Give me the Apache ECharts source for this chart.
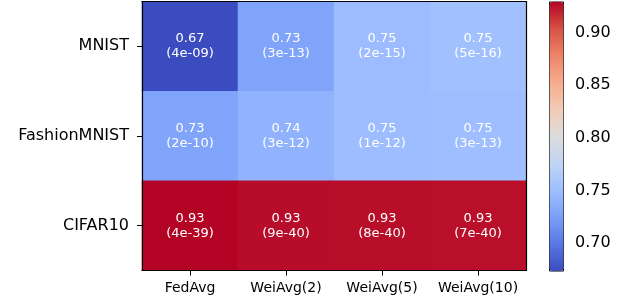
<!DOCTYPE html>
<html>
<head>
<meta charset="utf-8">
<script src="https://cdn.jsdelivr.net/npm/echarts@6/dist/echarts.min.js"></script>
<style>html,body{margin:0;padding:0;background:#fff}#c{width:627px;height:303px}</style>
</head>
<body>
<div id="c"></div>
<script>
const methods = ['FedAvg', 'WeiAvg(2)', 'WeiAvg(5)', 'WeiAvg(10)'];
const datasets = ['MNIST', 'FashionMNIST', 'CIFAR10'];
const mnistAcc = [0.6742, 0.729, 0.749, 0.753];
const fashionAcc = [0.729, 0.741, 0.750, 0.751];
const cifarAcc = [0.9295, 0.9265, 0.9262, 0.9258];
const mnistP = ['4e-09', '3e-13', '2e-15', '5e-16'];
const fashionP = ['2e-10', '3e-12', '1e-12', '3e-13'];
const cifarP = ['4e-39', '9e-40', '8e-40', '7e-40'];
const colorbarTicks = [0.70, 0.75, 0.80, 0.85, 0.90];
const coolwarm = ['#3b4cc0', '#5977e3', '#7b9ff9', '#9ebeff', '#c0d4f5', '#dddcdc', '#f2cbb7', '#f7ac8e', '#ee8468', '#d65244', '#b40426'];

const accRows = [mnistAcc, fashionAcc, cifarAcc];
const pRows = [mnistP, fashionP, cifarP];
const data = [];
accRows.forEach((row, r) => row.forEach((v, c) => data.push([c, r, v, pRows[r][c]])));
const allVals = accRows.flat();
const vmin = Math.min(...allVals), vmax = Math.max(...allVals);

const font = 'DejaVu Sans';
const spine = () => ({show: true, onZero: false, lineStyle: {color: '#000', width: 1.2}});
const chart = echarts.init(document.getElementById('c'), null, {renderer: 'canvas'});
chart.setOption({
  animation: false,
  backgroundColor: '#fff',
  textStyle: {fontFamily: font},
  grid: [
    {left: 142, top: 1.5, width: 384, height: 269, show: false, containLabel: false},
    {left: 549, top: 1.5, width: 14, height: 269, show: false}
  ],
  xAxis: [
    {type: 'category', gridIndex: 0, data: methods, position: 'bottom', zlevel: 1, z: 10,
     axisLine: spine(), splitArea: {show: false}, splitLine: {show: false},
     axisTick: {show: true, alignWithLabel: true, length: 5, lineStyle: {color: '#000', width: 1}},
     axisLabel: {fontSize: 14, color: '#000', margin: 11, fontFamily: font, interval: 0}},
    {type: 'value', gridIndex: 1, show: false, min: 0, max: 1},
    {type: 'category', gridIndex: 0, data: methods, position: 'top', zlevel: 1, z: 10,
     axisLine: spine(), axisTick: {show: false}, axisLabel: {show: false}, splitLine: {show: false}}
  ],
  yAxis: [
    {type: 'category', gridIndex: 0, data: datasets, inverse: true, zlevel: 1, z: 10,
     axisLine: spine(), splitArea: {show: false}, splitLine: {show: false},
     axisTick: {show: true, alignWithLabel: true, length: 5, lineStyle: {color: '#000', width: 1}},
     axisLabel: {fontSize: 16, color: '#000', margin: 13, fontFamily: font, interval: 0}},
    {type: 'value', gridIndex: 1, position: 'right', min: vmin, max: vmax,
     axisLine: {show: false}, splitLine: {show: false},
     axisTick: {show: true, length: 5, customValues: colorbarTicks, lineStyle: {color: '#000', width: 1}},
     axisLabel: {show: true, fontSize: 16, color: '#000', margin: 12, fontFamily: font,
       customValues: colorbarTicks, formatter: v => v.toFixed(2)}},
    {type: 'category', gridIndex: 0, data: datasets, inverse: true, position: 'right', zlevel: 1, z: 10,
     axisLine: spine(), axisTick: {show: false}, axisLabel: {show: false}, splitLine: {show: false}}
  ],
  visualMap: {
    type: 'continuous', min: vmin, max: vmax, dimension: 2, seriesIndex: 0,
    calculable: false, orient: 'vertical', left: 549, top: 1.5,
    itemWidth: 14, itemHeight: 269, padding: 0, text: null, showLabel: false,
    borderColor: '#000', borderWidth: 1,
    inRange: {color: coolwarm}
  },
  series: [{
    type: 'heatmap', xAxisIndex: 0, yAxisIndex: 0, data: data,
    itemStyle: {borderWidth: 0},
    label: {show: true, color: '#fff', fontSize: 13, lineHeight: 15, fontFamily: font,
      formatter: p => p.value[2].toFixed(2) + '\n(' + p.value[3] + ')'},
    emphasis: {disabled: true}
  }]
});
</script>
</body>
</html>
